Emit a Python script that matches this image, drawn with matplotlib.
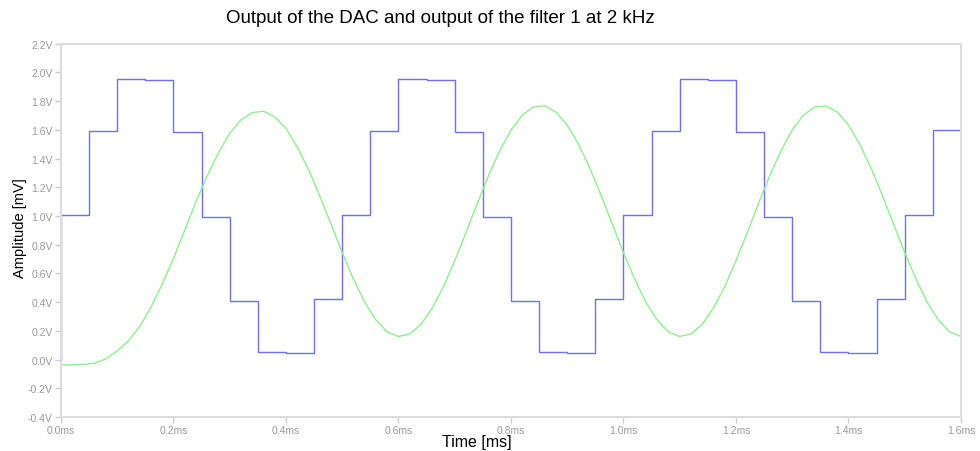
import numpy as np
import matplotlib
matplotlib.use("Agg")
import matplotlib.pyplot as plt

plt.rcParams['font.family'] = ['Liberation Sans', 'DejaVu Sans']

# DAC output, one value per 0.05 ms sample (10 samples per 0.5 ms period)
dac_period = [1.005, 1.595, 1.955, 1.95, 1.585, 0.995, 0.41, 0.05, 0.045, 0.42]
dac_values = [0.0] + dac_period * 3 + [1.005, 1.60]
dac_time = [0.0] + [round(0.05 * k, 3) for k in range(32)]

# filter output, read every 0.02 ms
filt_time = [round(0.02 * k, 3) for k in range(81)]
filt_values = [
    -0.037, -0.037, -0.034, -0.025, 0.005, 0.06, 0.13, 0.23, 0.365, 0.525,
    0.705, 0.90, 1.10, 1.28, 1.44, 1.575, 1.67, 1.72, 1.73, 1.69,
    1.61, 1.48, 1.325, 1.14, 0.945, 0.745, 0.56, 0.40, 0.275, 0.193,
    0.161, 0.178, 0.245, 0.358, 0.508, 0.688, 0.884, 1.086, 1.280, 1.454,
    1.598, 1.702, 1.759, 1.767, 1.724, 1.634, 1.501, 1.335, 1.146, 0.945,
    0.745, 0.560, 0.399, 0.275, 0.193, 0.161, 0.178, 0.245, 0.358, 0.508,
    0.688, 0.884, 1.086, 1.280, 1.454, 1.598, 1.702, 1.759, 1.767, 1.724,
    1.634, 1.501, 1.335, 1.146, 0.945, 0.745, 0.560, 0.399, 0.275, 0.193,
    0.161,
]

x_ticks = [0.0, 0.2, 0.4, 0.6, 0.8, 1.0, 1.2, 1.4, 1.6]
y_ticks = [-0.4, -0.2, 0.0, 0.2, 0.4, 0.6, 0.8, 1.0, 1.2, 1.4, 1.6, 1.8, 2.0, 2.2]

fig = plt.figure(figsize=(9.8, 4.52), dpi=100)
ax = fig.add_axes([0.0622, 0.0752, 0.9184, 0.8259])

# extend the last DAC step to the right edge
t_dac = dac_time + [1.6]
v_dac = dac_values + [dac_values[-1]]
ax.plot(t_dac, v_dac, drawstyle='steps-post', color='#7070f0', lw=1.0)
ax.plot(filt_time, filt_values, color='#8fee8f', lw=1.0)

ax.set_xlim(0, 1.6)
ax.set_ylim(-0.4, 2.2)
ax.set_xticks(x_ticks)
ax.set_xticklabels([f"{v:.1f}ms" for v in x_ticks])
ax.set_yticks(y_ticks)
ax.set_yticklabels([f"{v:.1f}V" for v in y_ticks])
ax.tick_params(colors='#cccccc', labelcolor='#9a9a9a', labelsize=7.5,
               length=4, width=1, pad=2)

for s in ax.spines.values():
    s.set_color('#dcdcdc')
    s.set_linewidth(1.5)

fig.text(0.449, 0.960, "Output of the DAC and output of the filter 1 at 2 kHz",
         ha='center', va='center', fontsize=13.5, color='black')
fig.text(0.487, 0.022, "Time [ms]", ha='center', va='center', fontsize=11.5)
fig.text(0.020, 0.496, "Amplitude [mV]", ha='center', va='center',
         rotation=90, fontsize=10.5)

fig.savefig("out.png", dpi=100)
